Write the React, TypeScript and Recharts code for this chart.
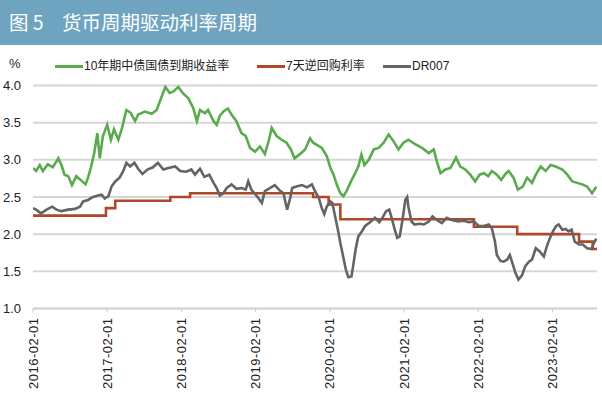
import React from "react";
import { LineChart, Line, XAxis, YAxis, CartesianGrid } from "recharts";

// x values are months since 2016-02-01
const xTickMonths = [0, 12, 24, 36, 48, 60, 72, 84];
const xTickLabels = [
  "2016-02-01",
  "2017-02-01",
  "2018-02-01",
  "2019-02-01",
  "2020-02-01",
  "2021-02-01",
  "2022-02-01",
  "2023-02-01",
];
const yTicks = [1.0, 1.5, 2.0, 2.5, 3.0, 3.5, 4.0];

const seriesNames = ["10年期中债国债到期收益率", "7天逆回购利率", "DR007"];
const seriesColors = ["#5aaa4e", "#b0462a", "#646464"];

const yield10y: [number, number][] = [
  [0, 2.89], [0.5, 2.85], [1.1, 2.93], [1.6, 2.85], [2.4, 2.94], [3.2, 2.9], [4.1, 3.02], [4.6, 2.93],
  [5.1, 2.8], [5.7, 2.78], [6.3, 2.66], [7.0, 2.78], [7.7, 2.73], [8.5, 2.67], [8.9, 2.76], [9.4, 2.91],
  [9.9, 3.09], [10.4, 3.36], [10.8, 3.02], [11.3, 3.32], [12.0, 3.47], [12.6, 3.27], [13.1, 3.41],
  [13.8, 3.27], [14.4, 3.43], [15.1, 3.67], [15.8, 3.63], [16.5, 3.52], [17.0, 3.61], [18.1, 3.65],
  [19.2, 3.62], [20.0, 3.67], [20.8, 3.85], [21.4, 3.98], [22.1, 3.9], [22.7, 3.92], [23.5, 3.98],
  [24.3, 3.89], [25.1, 3.83], [25.9, 3.7], [26.5, 3.52], [27.0, 3.67], [27.8, 3.63], [28.3, 3.67],
  [29.2, 3.52], [29.7, 3.47], [30.2, 3.59], [30.8, 3.65], [31.5, 3.69], [32.1, 3.61], [32.9, 3.52],
  [33.7, 3.36], [34.4, 3.32], [35.1, 3.16], [35.9, 3.11], [36.7, 3.18], [37.5, 3.08], [38.1, 3.25],
  [38.6, 3.43], [39.4, 3.32], [40.2, 3.27], [41.0, 3.23], [41.7, 3.14], [42.3, 3.02], [43.2, 3.08],
  [44.0, 3.14], [44.8, 3.29], [45.3, 3.23], [45.9, 3.2], [46.7, 3.16], [47.5, 3.05], [48.1, 2.89],
  [48.6, 2.8], [49.1, 2.67], [49.7, 2.55], [50.2, 2.51], [50.7, 2.58], [51.3, 2.69], [52.1, 2.82],
  [52.6, 2.91], [53.1, 3.07], [53.6, 2.93], [54.3, 3.0], [55.1, 3.14], [55.9, 3.16], [56.7, 3.23],
  [57.5, 3.34], [58.3, 3.25], [59.1, 3.14], [59.9, 3.23], [60.7, 3.27], [61.8, 3.21], [62.9, 3.16],
  [64.0, 3.09], [64.8, 3.14], [65.3, 2.98], [65.9, 2.82], [66.7, 2.87], [67.5, 2.89], [68.4, 3.03],
  [69.1, 2.91], [69.9, 2.87], [70.7, 2.8], [71.5, 2.71], [72.2, 2.8], [72.9, 2.82], [73.6, 2.78],
  [74.2, 2.85], [75.0, 2.8], [75.7, 2.73], [76.4, 2.81], [76.9, 2.85], [77.7, 2.76], [78.4, 2.6],
  [79.2, 2.64], [79.9, 2.76], [80.7, 2.69], [81.3, 2.8], [82.1, 2.91], [82.9, 2.85], [83.7, 2.93],
  [84.5, 2.91], [85.6, 2.87], [86.4, 2.8], [87.2, 2.71], [88.0, 2.69], [88.8, 2.67], [89.6, 2.64],
  [90.4, 2.55], [91.1, 2.64],
];

const repo7d: [number, number][] = [
  [0, 2.25], [11.8, 2.35], [13.3, 2.45], [22.2, 2.5], [25.4, 2.55], [45.3, 2.5], [47.8, 2.4],
  [49.7, 2.2], [71.3, 2.1], [78.3, 2.0], [88.3, 1.9], [90.5, 1.8], [91.2, 1.8],
];

const dr007: [number, number][] = [
  [0, 2.35], [0.5, 2.33], [1.3, 2.28], [2.2, 2.33], [3.1, 2.37], [3.8, 2.33], [4.6, 2.31], [5.7, 2.33],
  [6.8, 2.34], [7.6, 2.37], [8.1, 2.44], [8.9, 2.46], [9.7, 2.5], [10.5, 2.52], [11.1, 2.53],
  [11.6, 2.48], [12.2, 2.51], [12.7, 2.64], [13.3, 2.71], [14.0, 2.76], [14.6, 2.85], [15.1, 2.96],
  [15.7, 2.91], [16.4, 2.96], [17.0, 2.88], [17.7, 2.81], [18.5, 2.87], [19.4, 2.9], [20.2, 2.96],
  [21.1, 2.87], [21.9, 2.89], [23.0, 2.91], [23.8, 2.85], [24.8, 2.84], [25.6, 2.87], [26.2, 2.8],
  [27.0, 2.88], [27.7, 2.77], [28.5, 2.8], [29.2, 2.69], [29.7, 2.62], [30.2, 2.52], [30.8, 2.55],
  [31.3, 2.62], [32.1, 2.67], [32.9, 2.61], [33.7, 2.62], [34.4, 2.6], [34.8, 2.71], [35.3, 2.6],
  [35.8, 2.55], [36.4, 2.49], [37.0, 2.42], [37.5, 2.58], [38.3, 2.62], [39.1, 2.66], [40.0, 2.58],
  [40.5, 2.55], [40.9, 2.4], [41.1, 2.33], [41.6, 2.49], [41.9, 2.62], [42.6, 2.64], [43.5, 2.66],
  [44.3, 2.63], [45.1, 2.67], [45.6, 2.58], [46.2, 2.49], [46.7, 2.35], [47.1, 2.27], [47.5, 2.37],
  [48.1, 2.44], [48.4, 2.42], [48.9, 2.22], [49.3, 2.06], [49.7, 1.88], [50.2, 1.68], [50.6, 1.52],
  [51.0, 1.42], [51.5, 1.43], [51.8, 1.59], [52.2, 1.81], [52.6, 1.97], [53.2, 2.04], [53.7, 2.11],
  [54.5, 2.16], [55.3, 2.22], [56.0, 2.16], [56.5, 2.22], [57.1, 2.31], [57.6, 2.33], [58.0, 2.22],
  [58.5, 2.06], [58.9, 1.95], [59.3, 1.97], [59.8, 2.22], [60.2, 2.46], [60.5, 2.5], [60.7, 2.37],
  [61.2, 2.17], [61.7, 2.13], [62.5, 2.14], [63.2, 2.13], [64.0, 2.17], [64.6, 2.24], [65.3, 2.19],
  [66.1, 2.15], [66.9, 2.22], [67.7, 2.19], [68.8, 2.17], [69.6, 2.18], [70.5, 2.16], [71.3, 2.17],
  [72.1, 2.11], [72.9, 2.11], [73.7, 2.13], [74.2, 2.08], [74.7, 1.9], [75.0, 1.72], [75.6, 1.64],
  [76.1, 1.63], [76.7, 1.66], [77.1, 1.72], [77.6, 1.59], [78.0, 1.48], [78.5, 1.39], [79.1, 1.45],
  [79.6, 1.57], [80.2, 1.63], [80.7, 1.66], [81.3, 1.81], [81.9, 1.77], [82.6, 1.7], [83.1, 1.84],
  [83.6, 1.95], [84.1, 2.04], [84.6, 2.11], [85.0, 2.13], [85.6, 2.06], [86.1, 2.07], [86.6, 2.04],
  [87.1, 2.06], [87.6, 1.9], [88.3, 1.86], [88.9, 1.86], [89.6, 1.81], [90.3, 1.8], [90.7, 1.88],
  [91.1, 1.94],
];

const toRows = (pts: [number, number][]) => pts.map(([m, v]) => ({ m, v }));

const latin = '"Liberation Sans", Arial, "Noto Sans CJK SC", sans-serif';

const XTick = (props: any) => {
  const { x, y, payload } = props;
  const idx = xTickMonths.indexOf(payload.value);
  return (
    <text
      x={x}
      y={y}
      transform={`rotate(-90, ${x}, ${y})`}
      textAnchor="end"
      dy="0.35em"
      fontSize={13}
      fill="#222"
      fontFamily={latin}
      letterSpacing={0.5}
    >
      {idx >= 0 ? xTickLabels[idx] : ""}
    </text>
  );
};

const LegendItem = ({ left, color, label, textWidth }: { left: number; color: string; label: string; textWidth?: number }) => (
  <div style={{ position: "absolute", left, top: 58, height: 16, display: "flex", alignItems: "center" }}>
    <div style={{ width: 28, height: 3, background: color, marginRight: 1 }} />
    <span style={{ fontSize: 12, color: "#222", fontFamily: latin, whiteSpace: "nowrap", lineHeight: "16px" }}>{label}</span>
  </div>
);

export default function App() {
  return (
    <div
      style={{
        position: "absolute",
        left: 0,
        top: 0,
        width: 602,
        height: 399,
        background: "#ffffff",
        overflow: "hidden",
        fontFamily: latin,
      }}
    >
      <div style={{ position: "absolute", left: 0, top: 0, width: 602, height: 45, background: "#6ea4bf" }} />
      <div
        style={{
          position: "absolute",
          left: 9,
          top: 9,
          color: "#ffffff",
          fontSize: 19.5,
          lineHeight: "26px",
          fontFamily: '"Noto Sans CJK SC", sans-serif',
          whiteSpace: "nowrap",
        }}
      >
        图 5
      </div>
      <div
        style={{
          position: "absolute",
          left: 62,
          top: 9,
          color: "#ffffff",
          fontSize: 19.5,
          lineHeight: "26px",
          fontFamily: '"Noto Sans CJK SC", sans-serif',
          whiteSpace: "nowrap",
        }}
      >
        货币周期驱动利率周期
      </div>
      <div style={{ position: "absolute", left: 9, top: 56, fontSize: 13, color: "#222", lineHeight: "16px" }}>%</div>
      <LegendItem left={55} color={seriesColors[0]} label={seriesNames[0]} />
      <LegendItem left={257} color={seriesColors[1]} label={seriesNames[1]} />
      <LegendItem left={383} color={seriesColors[2]} label={seriesNames[2]} />
      <div style={{ position: "absolute", left: 0, top: 0 }}>
        <LineChart width={602} height={399} margin={{ top: 85.5, right: 5, bottom: 10.5, left: 0 }}>
          <CartesianGrid horizontal={true} vertical={false} stroke="#d6d6d6" strokeWidth={2} />
          <XAxis
            type="number"
            dataKey="m"
            domain={[0, 91.2]}
            ticks={xTickMonths}
            interval={0}
            height={80}
            axisLine={{ stroke: "#d6d6d6", strokeWidth: 2 }}
            tickLine={{ stroke: "#cccccc", strokeWidth: 1 }}
            tickSize={4}
            tickMargin={5}
            tick={<XTick />}
            allowDataOverflow={true}
          />
          <YAxis
            type="number"
            domain={[1, 4]}
            ticks={yTicks}
            interval={0}
            width={33}
            axisLine={false}
            tickLine={false}
            tickSize={0}
            tickMargin={12}
            tickFormatter={(v: number) => v.toFixed(1)}
            tick={{ fontSize: 13, fill: "#222", fontFamily: latin }}
          />
          <Line
            data={toRows(repo7d)}
            dataKey="v"
            name={seriesNames[1]}
            type="stepAfter"
            stroke={seriesColors[1]}
            strokeWidth={2.6}
            dot={false}
            isAnimationActive={false}
          />
          <Line
            data={toRows(yield10y)}
            dataKey="v"
            name={seriesNames[0]}
            type="linear"
            stroke={seriesColors[0]}
            strokeWidth={2.6}
            dot={false}
            isAnimationActive={false}
          />
          <Line
            data={toRows(dr007)}
            dataKey="v"
            name={seriesNames[2]}
            type="linear"
            stroke={seriesColors[2]}
            strokeWidth={2.6}
            dot={false}
            isAnimationActive={false}
          />
        </LineChart>
      </div>
    </div>
  );
}
